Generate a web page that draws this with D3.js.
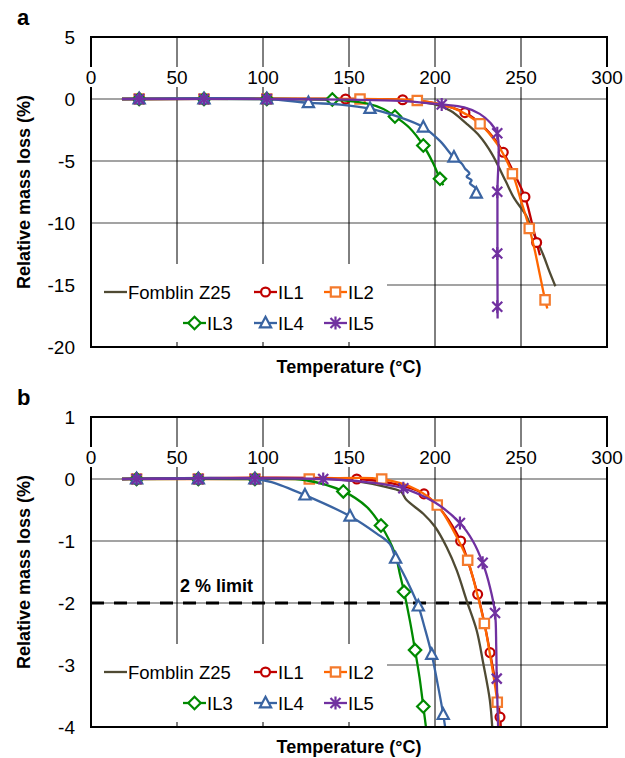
<!DOCTYPE html>
<html>
<head>
<meta charset="utf-8">
<script src="https://cdn.jsdelivr.net/npm/d3@7"></script>
<style>
  body { margin: 0; background: #fff; }
  svg { font-family: "Liberation Sans", Arial, sans-serif; }
</style>
</head>
<body>
<svg id="chart" width="625" height="758"></svg>
<script>
// ---- data (temperature in °C, relative mass loss in %) ----
const seriesNames = ['Fomblin Z25', 'IL1', 'IL2', 'IL3', 'IL4', 'IL5'];
const xTicks = [0, 50, 100, 150, 200, 250, 300];
const yTicksA = [5, 0, -5, -10, -15, -20];
const yTicksB = [1, 0, -1, -2, -3, -4];

// panel a: curves
const fomblinA = [[18,0],[150,0],[175,-0.05],[189,-0.23],[199,-0.4],[209,-0.95],[218,-1.95],[226,-3.0],[233,-4.4],[241,-6.6],[246,-8.0],[253,-9.4],[257,-10.7],[263,-12.6],[266.5,-13.9],[270,-15.1]];
const il1A = [[18,0],[148,0],[181,-0.06],[200,-0.35],[217.4,-1.1],[228,-2.2],[235,-3.3],[239.7,-4.3],[246,-6.0],[252.3,-7.9],[256,-9.8],[259.1,-11.6],[261,-12.6]];
const il2A = [[18,0],[156,0],[190,-0.12],[210,-0.7],[226,-2.0],[236,-3.6],[245,-6.0],[250,-8.2],[254.8,-10.4],[258,-12.2],[261,-14.2],[264,-16.2],[265.3,-16.9]];
const il3A = [[18,0],[102,0],[125,-0.02],[140,-0.05],[160,-0.35],[170,-0.8],[176.7,-1.4],[185,-2.3],[193.2,-3.75],[199,-5.2],[202.9,-6.44],[204.8,-6.95]];
const il4A = [[18,0],[102,0],[126,-0.3],[145,-0.45],[162,-0.77],[178,-1.4],[193.2,-2.27],[203,-3.4],[211,-4.72],[215.5,-5.2],[217.4,-5.6],[220,-6.0],[218.4,-6.27],[221.3,-6.55],[220.3,-6.8],[223.6,-7.2],[224.2,-7.6],[224.8,-8.0]];
const il5A = [[18,0],[102,0],[150,-0.05],[180,-0.15],[204,-0.44],[217,-0.68],[226,-1.2],[232,-1.9],[236.2,-2.8],[236.3,-7.5],[236.3,-12.5],[236.4,-17.7]];

// panel a: marker points
const lowMarksA = [[28,0],[65.7,0],[102.2,0]];
const il1MarksA = [[148,0],[181.2,-0.06],[217.4,-1.1],[239.7,-4.3],[252.3,-7.9],[259.1,-11.57]];
const il2MarksA = [[156.4,0],[189.7,-0.12],[226.2,-2.0],[245,-6.03],[254.8,-10.44],[264,-16.2]];
const il3MarksA = [[140.3,-0.04],[176.7,-1.41],[193.2,-3.75],[202.9,-6.44]];
const il4MarksA = [[126.4,-0.3],[162.2,-0.77],[193.2,-2.27],[211,-4.7],[224,-7.6]];
const il5MarksA = [[203.9,-0.44],[236.2,-2.76],[236.2,-7.48],[236.2,-12.46],[236.2,-16.76]];

// panel b: curves
const fomblinB = [[18,0],[140,0],[155,-0.04],[170,-0.12],[180,-0.2],[183.5,-0.34],[193.2,-0.56],[200,-0.77],[206.8,-1.1],[212.6,-1.47],[218.4,-1.96],[224.2,-2.44],[228.1,-2.98],[231.9,-3.57],[233.5,-4.1]];
const il1B = [[18,0],[154.5,0],[175,-0.07],[193.6,-0.24],[205,-0.55],[214.9,-1.0],[220,-1.4],[224.8,-1.86],[228.5,-2.3],[232,-2.8],[235.5,-3.35],[237.8,-3.84],[238.5,-4.1]];
const il2B = [[18,0],[126.9,0],[169,0],[190,-0.18],[201.3,-0.42],[211,-0.85],[219,-1.31],[224,-1.8],[228.7,-2.33],[233,-3.0],[236.2,-3.6],[237.5,-4.1]];
const il3B = [[18,0],[95.3,0],[125,-0.02],[146.7,-0.2],[160.3,-0.45],[168.6,-0.75],[176.7,-1.2],[179.7,-1.55],[182,-1.82],[185.5,-2.3],[188.4,-2.76],[191,-3.2],[193.2,-3.67],[195.2,-4.1]];
const il4B = [[18,0],[95.3,0],[105,-0.05],[124.4,-0.26],[150.6,-0.6],[166.1,-0.88],[173.8,-1.05],[177.1,-1.28],[183.5,-1.63],[190.3,-2.05],[194,-2.4],[198.1,-2.83],[201.5,-3.3],[204.8,-3.8],[206.4,-4.1]];
const il5B = [[18,0],[135,0],[160,-0.05],[181.6,-0.15],[200,-0.38],[214.5,-0.71],[222,-1.0],[227.7,-1.35],[232,-1.75],[234.9,-2.16],[235.6,-2.7],[235.9,-3.22],[236.5,-3.8],[236.8,-4.1]];

// panel b: marker points
const lowMarksB = [[26.5,0],[62.4,0],[95.3,0]];
const il1MarksB = [[154.5,0],[193.6,-0.24],[214.9,-1.0],[224.8,-1.86],[232,-2.8],[237.8,-3.84]];
const il2MarksB = [[126.9,0],[169,0],[201.3,-0.42],[219,-1.31],[228.7,-2.33],[236.2,-3.6]];
const il3MarksB = [[146.7,-0.2],[168.6,-0.75],[182,-1.82],[188.4,-2.76],[193.2,-3.67]];
const il4MarksB = [[124.4,-0.26],[150.6,-0.6],[177.1,-1.28],[190.3,-2.05],[198.1,-2.83],[204.8,-3.8]];
const il5MarksB = [[135,0],[181.6,-0.15],[214.5,-0.71],[227.7,-1.35],[234.9,-2.16],[235.9,-3.22]];

const limitValue = -2;

// ---- styles ----
const styles = {
  'Fomblin Z25': { line: '#4f4a33', mark: null },
  'IL1': { line: '#c00000', mark: '#c00000', shape: 'circle' },
  'IL2': { line: '#ff6600', mark: '#f47a2c', shape: 'square' },
  'IL3': { line: '#008a00', mark: '#008a00', shape: 'diamond' },
  'IL4': { line: '#3a64a2', mark: '#3a64a2', shape: 'triangle' },
  'IL5': { line: '#7030a0', mark: '#7030a0', shape: 'star' }
};

const svg = d3.select('#chart');
const left = 91, right = 607;

function markerPath(shape) {
  switch (shape) {
    case 'circle': return d3.symbol(d3.symbolCircle, 62)();
    case 'square': return d3.symbol(d3.symbolSquare, 88)();
    case 'diamond': return 'M0,-6.2L6.2,0L0,6.2L-6.2,0Z';
    case 'triangle': return 'M0,-6.2L5.6,4.4L-5.6,4.4Z';
    case 'star': return 'M-5,-5L5,5M-5,5L5,-5M0,-6.5L0,6.5';
  }
}

function drawPanel(cfg) {
  const x = d3.scaleLinear().domain([0, 300]).range([left, right]);
  const y = d3.scaleLinear().domain(cfg.yDomain).range([cfg.bottom, cfg.top]);
  const g = svg.append('g');

  // gridlines
  g.selectAll('.hgrid').data(cfg.yTicks).enter().append('line')
    .attr('x1', left).attr('x2', right)
    .attr('y1', d => y(d)).attr('y2', d => y(d))
    .attr('stroke', '#858585').attr('stroke-width', 1.4);
  g.selectAll('.vgrid').data(xTicks).enter().append('line')
    .attr('x1', d => x(d)).attr('x2', d => x(d))
    .attr('y1', cfg.top).attr('y2', cfg.bottom)
    .attr('stroke', '#000').attr('stroke-width', 1);

  // limit line
  if (cfg.limit !== undefined) {
    g.append('line')
      .attr('x1', left).attr('x2', right)
      .attr('y1', y(cfg.limit)).attr('y2', y(cfg.limit))
      .attr('stroke', '#000').attr('stroke-width', 3)
      .attr('stroke-dasharray', '13,10');
    g.append('text')
      .attr('x', 180).attr('y', y(cfg.limit) - 17)
      .attr('dominant-baseline', 'central')
      .style('font-size', '18px').style('font-weight', 'bold')
      .text('2 % limit');
  }

  // clip
  const clipId = 'clip-' + cfg.id;
  g.append('clipPath').attr('id', clipId).append('rect')
    .attr('x', left).attr('y', cfg.top)
    .attr('width', right - left).attr('height', cfg.bottom - cfg.top);

  const line = d3.line()
    .x(d => x(d[0])).y(d => y(d[1]))
    .curve(d3.curveCatmullRom.alpha(0.5));

  const plot = g.append('g').attr('clip-path', `url(#${clipId})`);
  cfg.series.forEach(s => {
    const st = styles[s.name];
    plot.append('path')
      .datum(s.line)
      .attr('d', line)
      .attr('fill', 'none')
      .attr('stroke', st.line)
      .attr('stroke-width', 2.3)
      .attr('stroke-linejoin', 'round');
    if (st.mark) {
      plot.selectAll(null).data(s.marks).enter().append('path')
        .attr('transform', d => `translate(${x(d[0])},${y(d[1])})`)
        .attr('d', markerPath(st.shape))
        .attr('fill', st.shape === 'star' ? 'none' : '#fff')
        .attr('stroke', st.mark)
        .attr('stroke-width', 2.2);
    }
  });

  // border
  g.append('rect')
    .attr('x', left).attr('y', cfg.top)
    .attr('width', right - left).attr('height', cfg.bottom - cfg.top)
    .attr('fill', 'none').attr('stroke', '#000').attr('stroke-width', 2);

  // x tick labels (sit above the zero line, white background)
  const xl = g.selectAll('.xl').data(xTicks).enter().append('g')
    .attr('transform', d => `translate(${x(d)},${y(0) - 22})`);
  xl.append('rect')
    .attr('x', d => -String(d).length * 5.5 - 1).attr('y', -10)
    .attr('width', d => String(d).length * 11 + 2).attr('height', 20)
    .attr('fill', '#fff');
  xl.append('text')
    .attr('text-anchor', 'middle').attr('dominant-baseline', 'central')
    .style('font-size', '19px')
    .text(d => d);

  // y tick labels
  g.selectAll('.yl').data(cfg.yTicks).enter().append('text')
    .attr('x', left - 16).attr('y', d => y(d))
    .attr('text-anchor', 'end').attr('dominant-baseline', 'central')
    .style('font-size', '19px')
    .text(d => d);

  // axis titles
  g.append('text')
    .attr('transform', `translate(24,${(cfg.top + cfg.bottom) / 2}) rotate(-90)`)
    .attr('text-anchor', 'middle').attr('dominant-baseline', 'central')
    .style('font-size', '18px').style('font-weight', 'bold')
    .text('Relative mass loss (%)');
  g.append('text')
    .attr('x', (left + right) / 2).attr('y', cfg.bottom + 20)
    .attr('text-anchor', 'middle').attr('dominant-baseline', 'central')
    .style('font-size', '18px').style('font-weight', 'bold')
    .text('Temperature (°C)');

  // panel letter
  g.append('text')
    .attr('x', 17).attr('y', cfg.top - 12)
    .style('font-size', '22px').style('font-weight', 'bold')
    .text(cfg.id);

  // legend
  const lg = g.append('g');
  lg.append('rect')
    .attr('x', left + 1).attr('y', cfg.bottom - 83)
    .attr('width', 295).attr('height', 78)
    .attr('fill', '#fff');
  const legendPos = [
    [104, cfg.bottom - 55], [254, cfg.bottom - 55], [324, cfg.bottom - 55],
    [183, cfg.bottom - 24], [254, cfg.bottom - 24], [324, cfg.bottom - 24]
  ];
  seriesNames.forEach((name, i) => {
    const st = styles[name];
    const [lx, ly] = legendPos[i];
    lg.append('line')
      .attr('x1', lx).attr('x2', lx + 23)
      .attr('y1', ly).attr('y2', ly)
      .attr('stroke', st.line).attr('stroke-width', 2.3);
    if (st.mark) {
      lg.append('path')
        .attr('transform', `translate(${lx + 11.5},${ly})`)
        .attr('d', markerPath(st.shape))
        .attr('fill', st.shape === 'star' ? 'none' : '#fff')
        .attr('stroke', st.mark).attr('stroke-width', 2.2);
    }
    lg.append('text')
      .attr('x', lx + 24).attr('y', ly)
      .attr('dominant-baseline', 'central')
      .style('font-size', '18.5px')
      .text(name);
  });
}

drawPanel({
  id: 'a', top: 37, bottom: 347, yDomain: [-20, 5], yTicks: yTicksA,
  series: [
    { name: 'Fomblin Z25', line: fomblinA, marks: [] },
    { name: 'IL1', line: il1A, marks: lowMarksA.concat(il1MarksA) },
    { name: 'IL2', line: il2A, marks: lowMarksA.concat(il2MarksA) },
    { name: 'IL3', line: il3A, marks: lowMarksA.concat(il3MarksA) },
    { name: 'IL4', line: il4A, marks: lowMarksA.concat(il4MarksA) },
    { name: 'IL5', line: il5A, marks: lowMarksA.concat(il5MarksA) }
  ]
});

drawPanel({
  id: 'b', top: 417, bottom: 727, yDomain: [-4, 1], yTicks: yTicksB, limit: limitValue,
  series: [
    { name: 'Fomblin Z25', line: fomblinB, marks: [] },
    { name: 'IL1', line: il1B, marks: lowMarksB.concat(il1MarksB) },
    { name: 'IL2', line: il2B, marks: lowMarksB.concat(il2MarksB) },
    { name: 'IL3', line: il3B, marks: lowMarksB.concat(il3MarksB) },
    { name: 'IL4', line: il4B, marks: lowMarksB.concat(il4MarksB) },
    { name: 'IL5', line: il5B, marks: lowMarksB.concat(il5MarksB) }
  ]
});
</script>
</body>
</html>
